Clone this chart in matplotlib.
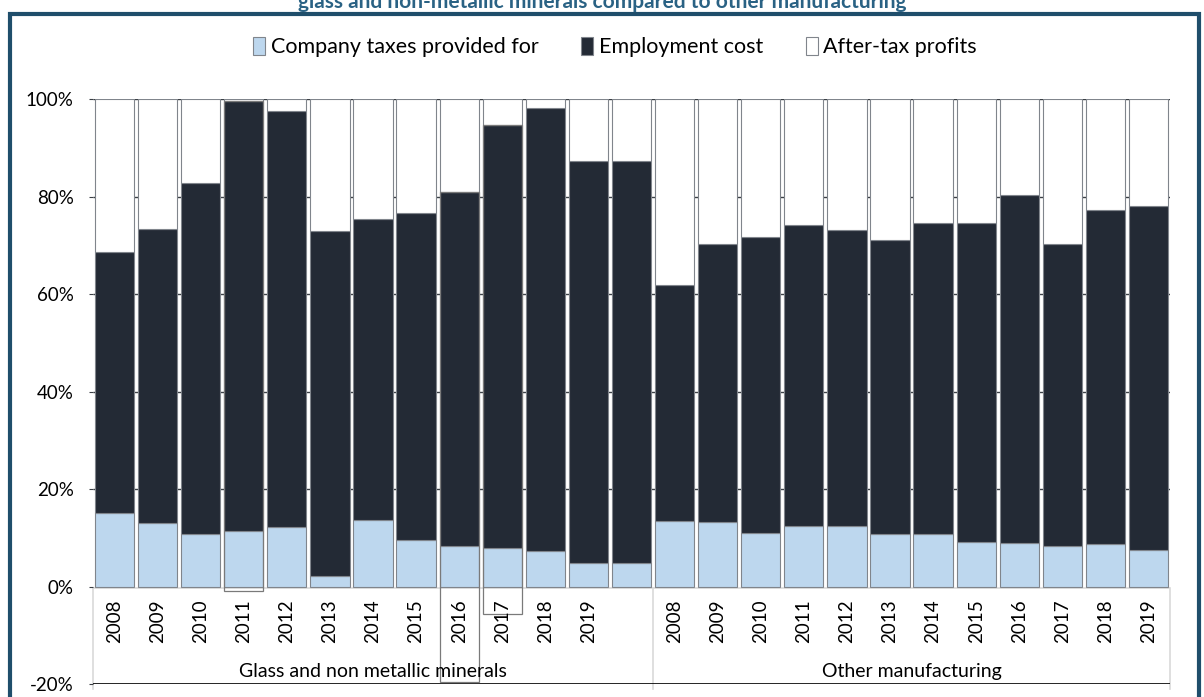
import matplotlib
matplotlib.use('Agg')
import matplotlib.pyplot as plt
from matplotlib.patches import Rectangle
import numpy as np

plt.rcParams['font.family'] = ['Lato', 'DejaVu Sans']

years = ['2008', '2009', '2010', '2011', '2012', '2013', '2014', '2015',
         '2016', '2017', '2018', '2019']
glass_labels = years + ['']
other_labels = years
groups = ['Glass and non metallic minerals', 'Other manufacturing']

# shares in percent
glass_tax = [15.2, 13.2, 10.8, 11.4, 12.3, 2.3, 13.8, 9.6, 8.4, 8.0, 7.4, 4.9, 4.9]
glass_emp = [53.5, 60.1, 72.0, 88.2, 85.3, 70.7, 61.6, 67.1, 72.5, 86.7, 90.8, 82.5, 82.5]
glass_profit = [31.3, 26.7, 17.2, 0.4, 2.4, 27.0, 24.6, 23.3, 19.1, 5.3, 1.8, 12.6, 12.6]

other_tax = [13.6, 13.4, 11.0, 12.4, 12.5, 10.9, 10.9, 9.2, 8.9, 8.4, 8.7, 7.5]
other_emp = [48.3, 56.9, 60.8, 61.8, 60.6, 60.3, 63.7, 65.5, 71.4, 61.9, 68.5, 70.7]
other_profit = [38.1, 29.7, 28.2, 25.8, 26.9, 28.8, 25.4, 25.3, 19.7, 29.7, 22.8, 21.8]

series_names = ['Company taxes provided for', 'Employment cost', 'After-tax profits']
colors = ['#bdd7ee', '#232a35', '#ffffff']

labels = glass_labels + other_labels
tax = np.array(glass_tax + other_tax)
emp = np.array(glass_emp + other_emp)
profit = np.array(glass_profit + other_profit)
x = np.arange(len(labels))
n_glass = len(glass_labels)

fig = plt.figure(figsize=(12.04, 6.97), dpi=100)
ax = fig.add_axes([93 / 1204, 12.6 / 697, (1170 - 93) / 1204, (684.4 - 99.3) / 697])

w = 0.91
edge = '#80858c'
b1 = ax.bar(x, tax, w, color=colors[0], edgecolor=edge, linewidth=0.8, zorder=2, label=series_names[0])
b2 = ax.bar(x, emp, w, bottom=tax, color=colors[1], edgecolor=edge, linewidth=0.8, zorder=2, label=series_names[1])
b3 = ax.bar(x, profit, w, bottom=tax + emp, color=colors[2], edgecolor=edge, linewidth=0.8, zorder=2, label=series_names[2])

# stray outlines seen in the original
for i, lo in [(3, -0.8), (8, -19.5), (9, -5.5)]:
    ax.add_patch(Rectangle((x[i] - w / 2, lo), w, tax[i] + emp[i] - lo, fill=False,
                           edgecolor='#7a7a7a', linewidth=0.9, zorder=3))

ax.set_xlim(-0.5, len(labels) - 0.5)
ax.set_ylim(-20, 100)
ax.hlines([20, 40, 60, 80, 100], -0.5, len(labels) - 0.5, colors='#3a3f45', linewidth=1, zorder=1)

# category axis area
gray = '#d9d9d9'
ax.plot([-0.5, len(labels) - 0.5], [-0.3, -0.3], color=gray, linewidth=1.2, zorder=1)
for xv in [-0.5, n_glass - 0.5, len(labels) - 0.5]:
    ax.plot([xv, xv], [-21, -0.3], color=gray, linewidth=1.2, zorder=1, clip_on=False)
ax.plot([-0.5, len(labels) - 0.5], [-20, -20], color='black', linewidth=1.2, zorder=2)

for xi, lab in zip(x, labels):
    ax.text(xi, -2.6, lab, rotation=90, ha='center', va='top', fontsize=13.5, color='black')
ax.text((n_glass - 1) / 2, -17.4, groups[0], ha='center', va='center', fontsize=14)
ax.text(n_glass + (len(other_labels) - 1) / 2, -17.4, groups[1], ha='center', va='center', fontsize=14)

ax.set_xticks([])
ax.set_yticks(range(-20, 101, 20))
ax.set_yticklabels([f'{v}%' for v in range(-20, 101, 20)], fontsize=13.5)
ax.tick_params(axis='y', length=3, color='#3a3f45', pad=11)
for s in ax.spines.values():
    s.set_visible(False)

fig.legend(handles=[b1, b2, b3], loc='center', bbox_to_anchor=(615 / 1204, (697 - 47) / 697),
           ncol=3, frameon=False, fontsize=15.5, handlelength=0.55, handleheight=0.95,
           handletextpad=0.25, columnspacing=2.0)

fig.text(0.5, (697 - 8) / 697, 'glass and non-metallic minerals compared to other manufacturing',
         ha='center', va='baseline', fontsize=15, fontweight='bold', color='#2a6284')
fig.patches.append(Rectangle((10 / 1204, -0.05), (1199 - 10) / 1204, (697 - 14) / 697 + 0.05,
                             transform=fig.transFigure, fill=False, edgecolor='#1f4e6b', linewidth=3))

fig.savefig('out.png', dpi=100)
